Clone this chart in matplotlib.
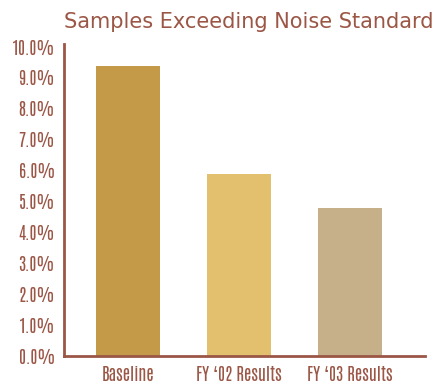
import matplotlib.pyplot as plt

# data
categories = ["Baseline", "FY \u201802 Results", "FY \u201803 Results"]
values = [9.4, 5.9, 4.8]
bar_colors = ["#c49a48", "#e2c06e", "#c5b08a"]
yticks = [0, 1, 2, 3, 4, 5, 6, 7, 8, 9, 10]

brown = "#9b5646"
label_font = ["Antonio", "DejaVu Sans"]

fig = plt.figure(figsize=(4.39, 3.85), dpi=100)
ax = fig.add_axes([64 / 439, 29 / 385, 361 / 439, 312 / 385])

x = range(len(categories))
ax.bar(x, values, width=0.577, color=bar_colors)
ax.set_xlim(-0.577, 2.676)
ax.set_ylim(0, 10.1)

ax.set_yticks(yticks)
ax.set_yticklabels([f"{v:.1f}%" for v in yticks])
ax.set_xticks(list(x))
ax.set_xticklabels(categories)
for lab in ax.get_yticklabels() + ax.get_xticklabels():
    lab.set_family(label_font)
    lab.set_fontsize(12.2)
    lab.set_weight("bold")
    lab.set_color(brown)
ax.tick_params(axis="y", length=0, pad=6.5)
ax.tick_params(axis="x", length=0, pad=7)

for s in ("top", "right"):
    ax.spines[s].set_visible(False)
for s in ("left", "bottom"):
    ax.spines[s].set_color(brown)
    ax.spines[s].set_linewidth(2)

fig.text(0.566, 0.943, "Samples Exceeding Noise Standard", ha="center", va="center",
         fontsize=15, color=brown, family="DejaVu Sans")

plt.savefig("out.png", dpi=100)
